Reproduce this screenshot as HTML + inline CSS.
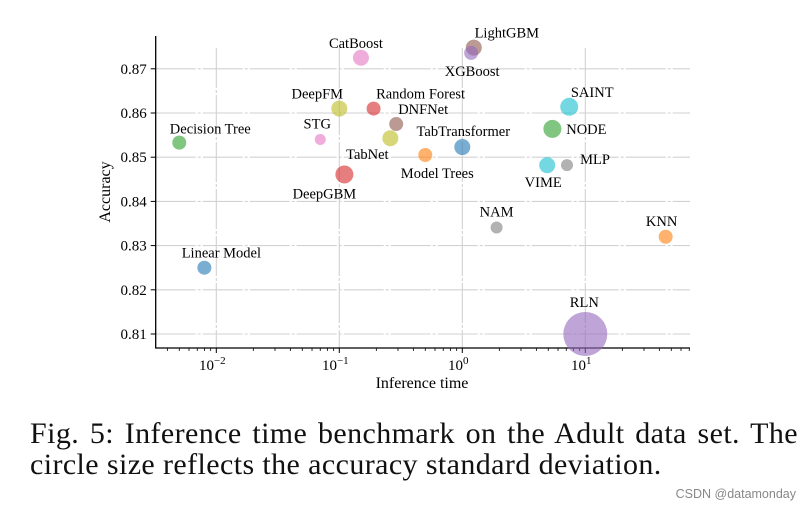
<!DOCTYPE html>
<html><head><meta charset="utf-8"><style>
body{margin:0;background:#fff;width:810px;height:513px;overflow:hidden;font-family:"Liberation Serif",serif;}
svg{position:absolute;left:0;top:0}
.cap{position:absolute;left:30px;width:768px;font-size:30px;line-height:32px;color:#111;white-space:nowrap;letter-spacing:0.4px}
.l1{top:418px;text-align:justify;text-align-last:justify;word-spacing:-7px}
.l2{top:449px}
.wm{position:absolute;right:14px;top:487px;font-family:"Liberation Sans",sans-serif;font-size:12.5px;color:#888}
</style></head><body>
<svg id="chart" width="810" height="513"></svg>
<div class="cap l1">Fig. 5: Inference time benchmark on the Adult data set. The</div>
<div class="cap l2">circle size reflects the accuracy standard deviation.</div>
<div class="wm">CSDN @datamonday</div>
<script>
const models=["Decision Tree","Linear Model","STG","DeepFM","CatBoost","Random Forest","DNFNet","TabNet","DeepGBM","Model Trees","TabTransformer","LightGBM","XGBoost","SAINT","NODE","VIME","MLP","NAM","KNN","RLN"];
const times=[0.005,0.008,0.07,0.1,0.15,0.19,0.29,0.26,0.11,0.5,1.0,1.24,1.18,7.4,5.4,4.9,7.1,1.9,45,10];
const accs=[0.8533,0.825,0.854,0.861,0.8725,0.861,0.8575,0.8543,0.8461,0.8505,0.8523,0.8748,0.8736,0.8614,0.8564,0.8482,0.8482,0.8341,0.832,0.81];
const stds=[7,7,5.5,8,8,7,7,8,9,7,8,8,7,9,9,8,6,6,7,22];
const yTicks=[0.81,0.82,0.83,0.84,0.85,0.86,0.87];
const xTickExps=[-2,-1,0,1];
const colors=["#2ca02c","#1f77b4","#e377c2","#bcbd22","#e377c2","#d62728","#8c564b","#bcbd22","#d62728","#ff7f0e","#1f77b4","#8c564b","#9467bd","#17becf","#2ca02c","#17becf","#7f7f7f","#7f7f7f","#ff7f0e","#9467bd"];
const lblOff=[[31,-14],[17,-15],[-3,-16],[-22,-15],[-5,-15],[47,-15],[27,-15],[-23,16],[-20,19],[12,18],[1,-16],[33,-15],[1,18],[23,-15],[34,0],[-4,17],[28,-6],[0,-16],[-4,-16],[-1,-32]];
const L=155.7,R=690,T=36,B=348;
const X=v=>462.3+Math.log10(v)*123;
const Y=v=>334-(v-0.81)*4420;
const svg=document.getElementById('chart');
const NS="http://www.w3.org/2000/svg";
function mk(t,a,p){const e=document.createElementNS(NS,t);for(const k in a)e.setAttribute(k,a[k]);(p||svg).appendChild(e);return e;}
yTicks.forEach(v=>{const g=mk('line',{x1:L,x2:R,y1:Y(v),y2:Y(v),stroke:'#d2d2d2','stroke-width':1.1,'stroke-dasharray':'40,2,3,2'});

mk('line',{x1:L-5,x2:L,y1:Y(v),y2:Y(v),stroke:'#000'});
const t=mk('text',{x:L-9,y:Y(v)+5,'text-anchor':'end','font-size':15,fill:'#000'});t.textContent=v.toFixed(2);
});
xTickExps.forEach(e=>{const x=X(Math.pow(10,e));
const g=mk('line',{x1:x,x2:x,y1:T+12,y2:B,stroke:'#d2d2d2','stroke-width':1.1,'stroke-dasharray':'40,2,3,2'});

mk('line',{x1:x,x2:x,y1:B,y2:B+5,stroke:'#000'});
const t=mk('text',{x:x-4,y:B+22,'text-anchor':'middle','font-size':15,fill:'#000'});

t.appendChild(document.createTextNode('10'));const s=mk('tspan',{dy:-6,'font-size':11},t);s.textContent=(e<0?'\u2212':'')+Math.abs(e);});
for(let e=-3;e<=1;e++)for(let m=2;m<=9;m++){const x=X(m*Math.pow(10,e));if(x>L&&x<R)mk('line',{x1:x,x2:x,y1:B,y2:B+3,stroke:'#000','stroke-width':0.8});}
const ax=mk('path',{d:`M${L},${T}V${B}H${R}`,stroke:'#000','stroke-width':1.3,fill:'none'});

const yl=mk('text',{x:0,y:0,transform:`translate(110,192) rotate(-90)`,'text-anchor':'middle','font-size':16});yl.textContent='Accuracy';

const xl=mk('text',{x:422,y:388,'text-anchor':'middle','font-size':16});xl.textContent='Inference time';

models.forEach((m,i)=>{const cx=X(times[i]),cy=Y(accs[i]);
const c=mk('circle',{cx:cx,cy:cy,r:stds[i],fill:colors[i],'fill-opacity':0.6});

const t=mk('text',{x:cx+lblOff[i][0],y:cy+lblOff[i][1]+5,'text-anchor':'middle','font-size':14.5,fill:'#000'});t.textContent=m;
});
</script>
</body></html>
